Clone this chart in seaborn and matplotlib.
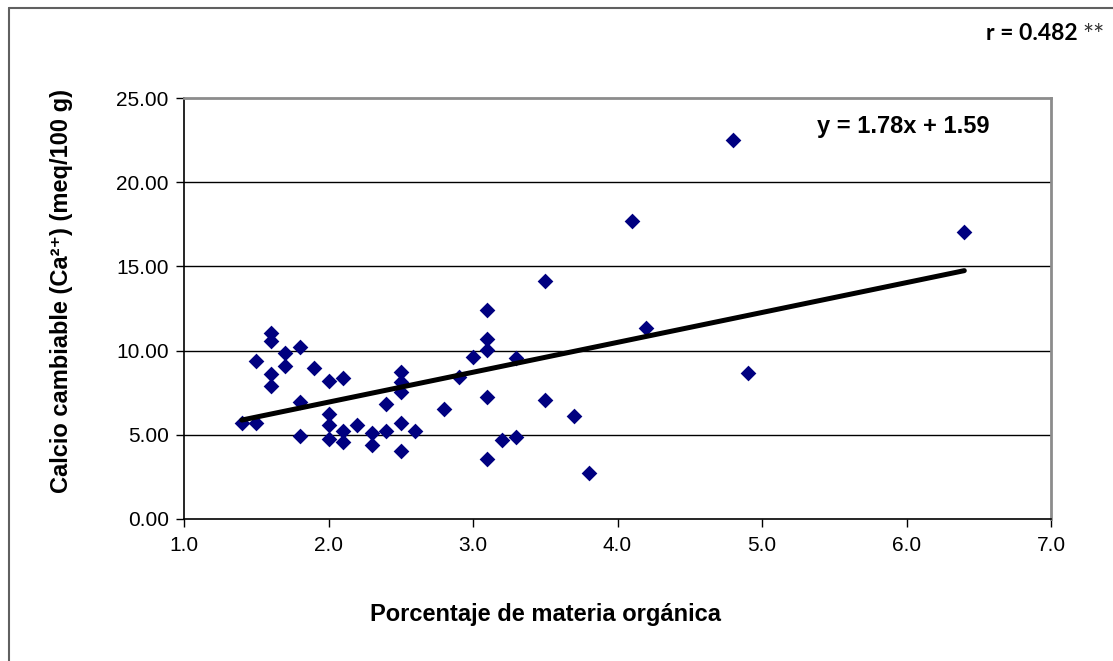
import numpy as np
import pandas as pd
import matplotlib
matplotlib.use("Agg")
import matplotlib.pyplot as plt
from matplotlib.lines import Line2D
import seaborn as sns

# Organic matter (%) and exchangeable calcium (meq/100 g) per sample
materia_organica = [
    1.4, 1.5, 1.5, 1.6, 1.6, 1.6, 1.6, 1.7, 1.7, 1.8, 1.8, 1.8, 1.9,
    2.0, 2.0, 2.0, 2.0, 2.1, 2.1, 2.1, 2.2, 2.3, 2.3, 2.4, 2.4,
    2.5, 2.5, 2.5, 2.5, 2.5, 2.6, 2.8, 2.9, 3.0,
    3.1, 3.1, 3.1, 3.1, 3.1, 3.2, 3.3, 3.3, 3.5, 3.5, 3.7, 3.8,
    4.1, 4.2, 4.8, 4.9, 6.4,
]
calcio = [
    5.68, 5.70, 9.40, 11.06, 10.55, 8.63, 7.92, 9.88, 9.10, 10.22, 6.97, 4.90, 8.95,
    8.20, 6.24, 5.58, 4.74, 8.36, 5.20, 4.55, 5.57, 5.12, 4.39, 6.83, 5.20,
    8.72, 8.16, 7.55, 5.73, 4.02, 5.24, 6.52, 8.42, 9.63,
    12.39, 10.68, 10.01, 7.22, 3.55, 4.71, 4.88, 9.55, 14.12, 7.05, 6.12, 2.74,
    17.72, 11.33, 22.52, 8.67, 17.02,
]
x_ticks = [1.0, 2.0, 3.0, 4.0, 5.0, 6.0, 7.0]
y_ticks = [0, 5, 10, 15, 20, 25]

ecuacion = "y = 1.78x + 1.59"
correlacion = "r = 0.482"

df = pd.DataFrame({"mo": materia_organica, "ca": calcio})

sns.set_theme(style="white")
plt.rcParams["font.family"] = ["Liberation Sans", "DejaVu Sans"]
plt.rcParams["text.color"] = "black"
plt.rcParams["axes.labelcolor"] = "black"
plt.rcParams["xtick.color"] = "black"
plt.rcParams["ytick.color"] = "black"

fig = plt.figure(figsize=(11.13, 6.61), dpi=100)
ax = fig.add_axes([184 / 1113, 1 - 519 / 661, (1051 - 184) / 1113, (519 - 98) / 661])

# horizontal gridlines
for yv in y_ticks[1:-1]:
    ax.axhline(yv, color="black", lw=1.0, zorder=1)

sns.scatterplot(data=df, x="mo", y="ca", marker="D", s=64, color="#000080",
                linewidth=0, ax=ax, zorder=3)
sns.regplot(data=df, x="mo", y="ca", scatter=False, ci=None, truncate=True,
            line_kws=dict(color="black", lw=3.6, solid_capstyle="round", zorder=4),
            ax=ax)

ax.set_xlim(1.0, 7.0)
ax.set_ylim(0, 25)
ax.set_xticks(x_ticks)
ax.set_yticks(y_ticks)
ax.set_xticklabels([f"{v:.1f}" for v in x_ticks], fontsize=15, color="black")
ax.set_yticklabels([f"{v:.2f}" for v in y_ticks], fontsize=15, color="black")
ax.tick_params(axis="both", direction="out", length=6, width=1, color="black",
               bottom=True, left=True, pad=5)
ax.tick_params(axis="x", pad=6)

for side in ["left", "bottom"]:
    ax.spines[side].set_color("black")
    ax.spines[side].set_linewidth(1.2)
for side in ["top", "right"]:
    ax.spines[side].set_color("#8c8c8c")
    ax.spines[side].set_linewidth(2.0)

ax.set_xlabel("Porcentaje de materia orgánica", fontsize=17, fontweight="bold",
              color="black")
ax.set_ylabel("Calcio cambiable (Ca²⁺) (meq/100 g)", fontsize=17,
              fontweight="bold", color="black")
ax.xaxis.set_label_coords((546 - 184) / 867, -(614 - 519) / 421)
ax.yaxis.set_label_coords(-(184 - 62) / 867, (519 - 291) / 421)
ax.xaxis.label.set_va("center")
ax.yaxis.label.set_va("center")

ax.text((903 - 184) / 867, (519 - 127) / 421, ecuacion, transform=ax.transAxes,
        fontsize=17, fontweight="bold", ha="center", va="center", zorder=5)

fig.text(1078 / 1113, 1 - 33 / 661, correlacion, fontsize=16.5, fontweight="bold",
         ha="right", va="center", family=["Lato", "DejaVu Sans"])
fig.text(1082 / 1113, 1 - 36 / 661, "**", fontsize=19, ha="left", va="center",
         color="#333333", family=["Lato", "DejaVu Sans"])

# chart area frame
fig.add_artist(Line2D([8.5 / 1113, 8.5 / 1113], [0, 1 - 8 / 661],
                      transform=fig.transFigure, color="#606060", lw=1.5))
fig.add_artist(Line2D([8.5 / 1113, 1], [1 - 8 / 661, 1 - 8 / 661],
                      transform=fig.transFigure, color="#606060", lw=1.5))

fig.savefig("out.png", dpi=100, facecolor="white")
